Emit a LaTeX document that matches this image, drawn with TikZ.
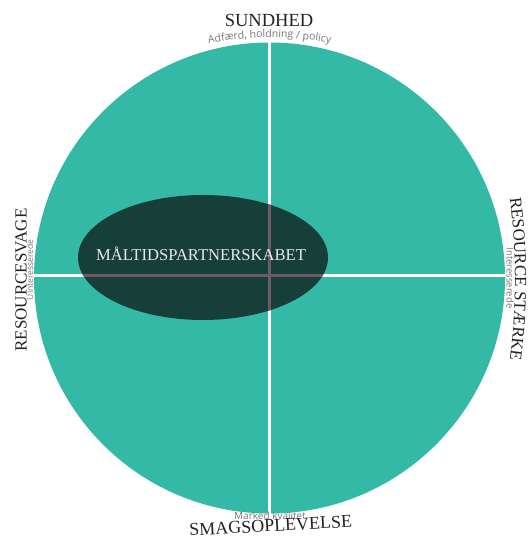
\documentclass[tikz,border=0pt]{standalone}
\usepackage{fontspec}
\setmainfont{Liberation Serif}
\newfontfamily\subfnt{Open Sans}
\usetikzlibrary{decorations.text,calc}
\definecolor{tealfill}{HTML}{35B9A7}
\definecolor{darkell}{HTML}{173F3A}
\definecolor{lineinell}{HTML}{6C5A65}
\definecolor{subgray}{HTML}{777777}
\definecolor{headtxt}{HTML}{222222}
\definecolor{elltxt}{HTML}{E8E8E8}
\tikzset{
  sep/.style={draw=white, line width=3pt},
  sepin/.style={draw=lineinell, line width=3pt},
  head/.style={text=headtxt, font=\fontsize{17}{17}\selectfont, inner sep=0pt},
  subl/.style={text=subgray, font=\subfnt\fontsize{8.5}{9}\selectfont, inner sep=0pt},
}
\begin{document}
\begin{tikzpicture}[x=1pt,y=1pt]
\useasboundingbox (0,0) rectangle (528,540);
\coordinate (c) at (269.5,262);
\fill[tealfill] (c) circle[radius=235.5];
\coordinate (hl) at (30,264);
\coordinate (hr) at (508,264);
\coordinate (vt) at (269,498);
\coordinate (vb) at (269,24);
\draw[sep] (hl) -- (hr);
\draw[sep] (vt) -- (vb);
\fill[darkell] (203,282.5) ellipse[x radius=125, y radius=62.5];
\begin{scope}
  \clip (203,282.5) ellipse[x radius=125, y radius=62.5];
  \draw[sepin] (hl) -- (hr);
  \draw[sepin] (vt) -- (vb);
\end{scope}
\node[anchor=base, text=elltxt, font=\fontsize{16.6}{17}\selectfont, inner sep=0pt] (mp) at (201,279) {MÅLTIDSPARTNERSKABET};
% top
\node[head, anchor=base, font=\fontsize{18.5}{19}\selectfont] (sund) at (269,513) {SUNDHED};
\coordinate (tc) at (269.5,182.5);
\path[decorate, decoration={text along path, text align=center,
  text={|\subfnt\fontsize{10.5}{11}\selectfont\color{subgray}|Adfærd, holdning / policy}}]
  ($(tc)+(115:320)$) arc[start angle=115, end angle=65, radius=320];
% bottom
\node[subl, anchor=base, font=\subfnt\fontsize{10}{10}\selectfont] (mk) at (270,20) {Marked kvalitet};
\node[head, anchor=base, rotate=3, font=\fontsize{18}{18}\selectfont] (smag) at (271,8.5) {SMAGSOPLEVELSE};
% right
\coordinate (rc) at (-125,261);
\path[decorate, decoration={text along path, text align=center,
  text={|\fontsize{17}{17}\selectfont\color{headtxt}|RESOURCE STÆRKE}}]
  ($(rc)+(12:640)$) arc[start angle=12, end angle=-12, radius=640];
\node[subl, rotate=-90, anchor=base, font=\subfnt\fontsize{9.5}{10}\selectfont] (int) at (506.5,262) {Interesserede};
% left
\node[head, rotate=90, anchor=base] (rsv) at (26.5,260) {RESOURCESVAGE};
\node[subl, rotate=90, anchor=base] (uint) at (33,270) {Uinteresserede};
\end{tikzpicture}
\end{document}
